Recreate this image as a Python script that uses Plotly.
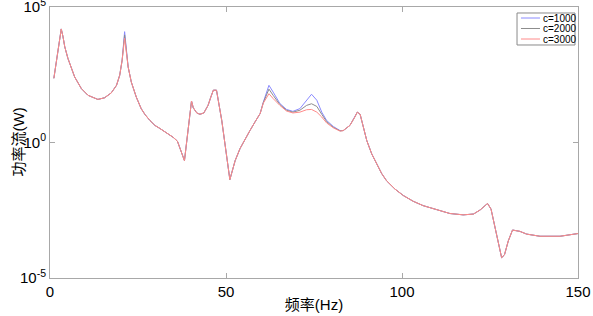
import plotly.graph_objects as go

# ---- data ----
# frequency (Hz)
freq_a = [1.1, 2.2, 3.2, 3.7, 4.2, 5.1, 7.0, 8.9, 10.8, 13.6, 15.5, 17.4, 18.9, 19.8, 20.5]
freq_peak = [21.2]
freq_b = [22.2, 23.1, 24.5, 25.9, 27.0, 28.4, 29.8, 31.2, 33.1, 35.0, 36.2, 36.9, 38.2,
          40.2, 40.7, 41.7, 42.6, 43.7, 44.9, 45.7, 46.4, 47.3, 48.8, 51.1, 52.6, 54.0,
          55.4, 56.8, 58.2, 59.7]
freq_mid = [60.6, 62.2, 63.4, 65.3, 67.2, 69.0, 71.0, 72.9, 74.3, 75.8, 77.2, 78.6, 80.5, 82.4]
freq_c = [83.3, 85.2, 86.6, 87.3, 88.1, 89.0, 90.0, 91.4, 92.8, 94.2, 95.6, 98.0, 100.4,
          103.2, 106.0, 109.8, 113.6, 117.4, 120.3, 122.2, 123.6, 124.3, 125.3, 126.4,
          127.4, 128.3, 129.1, 130.2, 131.4, 133.5, 135.4, 139.2, 144.9, 150.0]

# power flow (W) — parts shared by all three curves
power_a = [234, 2000, 15500, 7940, 3390, 1260, 263, 97.7, 55.0, 38.9, 44.7, 67.6, 129, 302, 1100]
power_b = [617, 170, 47.9, 17.8, 10.7, 6.46, 4.27, 3.31, 2.29, 1.55, 1.12, 0.646, 0.214,
           33.9, 19.1, 12.3, 11.0, 12.3, 23.4, 47.9, 85.1, 85.1, 6.46, 0.0427, 0.214, 0.603,
           1.38, 2.75, 5.62, 11.7]
power_c = [2.75, 4.27, 8.71, 13.2, 11.0, 3.72, 1.17, 0.380, 0.166, 0.0724, 0.0389, 0.0191,
           0.0110, 0.00676, 0.00468, 0.00331, 0.00240, 0.00214, 0.00229, 0.00324, 0.00468,
           0.00562, 0.00347, 7.24e-4, 1.78e-4, 5.62e-5, 7.08e-5, 2.34e-4, 5.89e-4, 5.25e-4,
           4.17e-4, 3.47e-4, 3.47e-4, 4.37e-4]

# parts that differ between damping values
peak_c1000 = [12300]
peak_c2000 = [9330]
peak_c3000 = [7080]
mid_c1000 = [30.9, 129, 72.4, 27.5, 16.6, 14.1, 17.8, 36.3, 60.3, 36.3, 13.2, 6.46, 3.89, 2.75]
mid_c2000 = [29.5, 93.3, 55.0, 25.1, 15.5, 13.2, 15.5, 23.4, 26.9, 21.4, 11.0, 5.89, 3.63, 2.69]
mid_c3000 = [28.2, 63.1, 41.7, 23.4, 14.5, 12.3, 13.2, 16.2, 16.6, 13.2, 8.71, 5.25, 3.47, 2.63]

series_names = ["c=1000", "c=2000", "c=3000"]
peaks = [peak_c1000, peak_c2000, peak_c3000]
mids = [mid_c1000, mid_c2000, mid_c3000]
colors = ["#8a8aff", "#8c8c8c", "#ff8a8a"]

x_title = "频率(Hz)"
y_title = "功率流(W)"

freq = freq_a + freq_peak + freq_b + freq_mid + freq_c

fig = go.Figure()
for name, pk, md, col in zip(series_names, peaks, mids, colors):
    y = power_a + pk + power_b + md + power_c
    fig.add_trace(go.Scatter(x=freq, y=y, mode="lines", name=name,
                             line=dict(color=col, width=1), showlegend=False))

# compact legend box (like the reference) built with paper-coordinate shapes/annotations
bx0, bx1, by0, by1 = 0.8845, 0.9943, 0.8598, 0.9779
border = dict(color="#8a8a8a", width=1)
fig.add_shape(type="rect", xref="paper", yref="paper", x0=bx0, x1=bx1, y0=by0, y1=by1,
              line=dict(width=0), fillcolor="white", layer="above")
for (xa, ya, xb, yb) in [(bx0, by0, bx1, by0), (bx0, by1, bx1, by1),
                         (bx0, by0, bx0, by1), (bx1, by0, bx1, by1)]:
    fig.add_shape(type="line", xref="paper", yref="paper", x0=xa, y0=ya, x1=xb, y1=yb,
                  line=border, layer="above")
row_y = [0.9594, 0.9207, 0.8819]
for name, col, ry in zip(series_names, colors, row_y):
    fig.add_shape(type="line", xref="paper", yref="paper", x0=0.892, x1=0.928,
                  y0=ry, y1=ry, line=dict(color=col, width=1), layer="above")
    fig.add_annotation(text=name, xref="paper", yref="paper", x=0.930, y=ry,
                       xanchor="left", yanchor="middle", showarrow=False,
                       font=dict(size=10, family="Liberation Sans, Arial", color="black"))

# y-axis title placed like the reference
fig.add_annotation(text=y_title, xref="paper", yref="paper", x=0, y=0.5, xshift=-32,
                   textangle=-90, xanchor="center", yanchor="middle", showarrow=False,
                   font=dict(size=15, family="Liberation Sans, Noto Sans CJK SC", color="black"))

axis_common = dict(showline=True, linecolor="#a8a8a8", linewidth=1, mirror="ticks",
                   ticks="inside", ticklen=5, tickcolor="#a8a8a8", showgrid=False,
                   zeroline=False, automargin=False, ticklabeloverflow="allow",
                   tickfont=dict(family="Liberation Sans, Arial", size=15, color="black"))

fig.update_layout(
    width=593, height=316,
    margin=dict(l=50, r=15, t=7, b=38),
    paper_bgcolor="white", plot_bgcolor="white",
    font=dict(family="Liberation Sans, Noto Sans CJK SC", color="black"),
    xaxis=dict(range=[0, 150], tickvals=[0, 50, 100, 150],
               title=dict(text=x_title, font=dict(size=15), standoff=0), **axis_common),
    yaxis=dict(type="log", range=[-5, 5], tickvals=[1e-5, 1, 1e5],
               ticktext=["10<sup>-5</sup>", "10<sup>0</sup>", "10<sup>5</sup>"],
               **axis_common),
    showlegend=False,
)

fig.write_html("out.html", config={"displayModeBar": False},
               post_script="document.body.style.margin='0';document.body.style.padding='0';")
